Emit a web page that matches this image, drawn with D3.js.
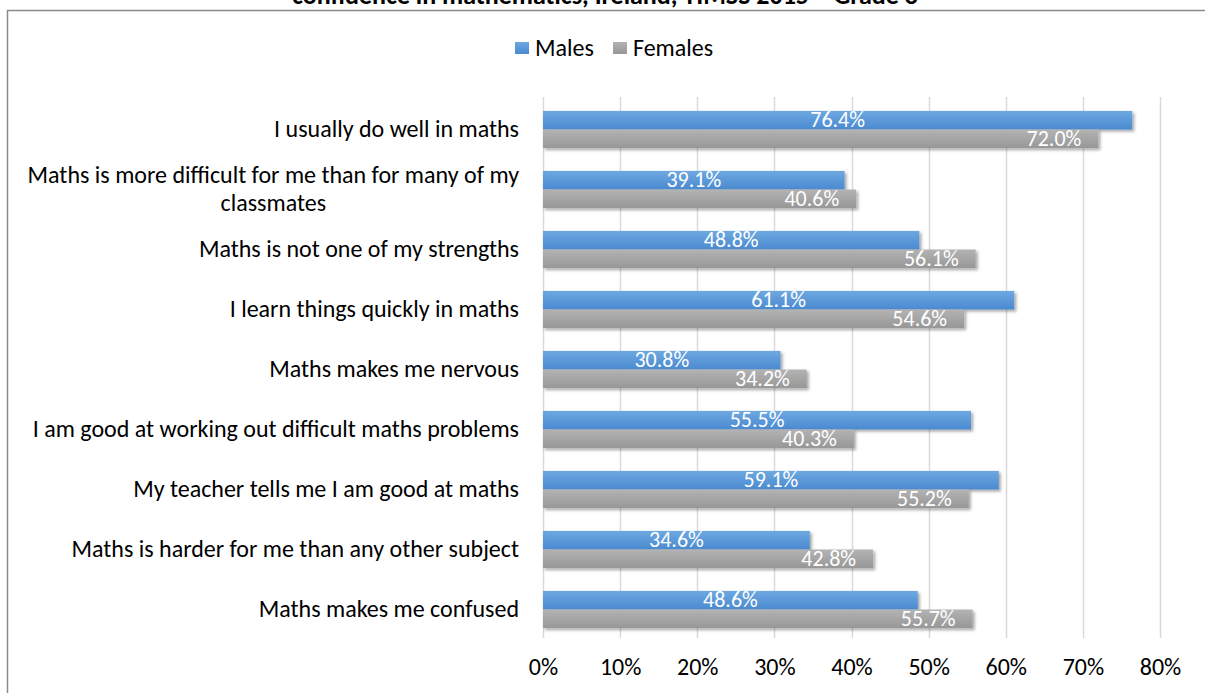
<!DOCTYPE html>
<html>
<head>
<meta charset="utf-8">
<script src="https://cdn.jsdelivr.net/npm/d3@7"></script>
<style>
  body { margin: 0; background: #fff; }
  text { font-family: Carlito, Calibri, "Noto Sans", sans-serif; }
</style>
</head>
<body>
<div id="chart"></div>
<script>
var categories = [
  "I usually do well in maths",
  "Maths is more difficult for me than for many of my classmates",
  "Maths is not one of my strengths",
  "I learn things quickly in maths",
  "Maths makes me nervous",
  "I am good at working out difficult maths problems",
  "My teacher tells me I am good at maths",
  "Maths is harder for me than any other subject",
  "Maths makes me confused"
];
var males = [76.4, 39.1, 48.8, 61.1, 30.8, 55.5, 59.1, 34.6, 48.6];
var females = [72.0, 40.6, 56.1, 54.6, 34.2, 40.3, 55.2, 42.8, 55.7];
var seriesNames = ["Males", "Females"];
var xTicks = [0, 10, 20, 30, 40, 50, 60, 70, 80];
var titleText = "confidence in mathematics, Ireland, TIMSS 2015 \u2013 Grade 8";

var W = 1205, H = 693;
var margin = {top: 98, left: 543, right: 45, bottom: 55};

var svg = d3.select("#chart").append("svg")
  .attr("width", W)
  .attr("height", H);

var defs = svg.append("defs");
function grad(id, top, bottom) {
  var g = defs.append("linearGradient").attr("id", id)
    .attr("x1", 0).attr("y1", 0).attr("x2", 0).attr("y2", 1);
  g.append("stop").attr("offset", "0%").attr("stop-color", top);
  g.append("stop").attr("offset", "100%").attr("stop-color", bottom);
}
grad("gMale", "#6ea8e0", "#4a8ad0");
grad("gFemale", "#b3b3b3", "#979797");
var shadow = defs.append("filter").attr("id", "shadow")
  .attr("x", "-5%").attr("y", "-30%").attr("width", "115%").attr("height", "180%");
shadow.append("feDropShadow")
  .attr("dx", 2).attr("dy", 2).attr("stdDeviation", 1.5)
  .attr("flood-color", "#000").attr("flood-opacity", 0.35);

// frame (cut at right/bottom like the source crop)
svg.append("line").attr("x1", 7).attr("x2", W).attr("y1", 10.5).attr("y2", 10.5)
  .attr("stroke", "#8a8a8a").attr("stroke-width", 1.5);
svg.append("line").attr("x1", 7.5).attr("x2", 7.5).attr("y1", 10).attr("y2", H)
  .attr("stroke", "#8a8a8a").attr("stroke-width", 1.5);

// title (only its lower part shows, as in the source)
svg.append("text")
  .attr("x", 605).attr("y", 4)
  .attr("text-anchor", "middle")
  .style("font-size", "26px").style("font-weight", "bold")
  .attr("fill", "#000")
  .text(titleText);

var x = d3.scaleLinear()
  .domain([0, 80])
  .range([margin.left, W - margin.right]);

var y = d3.scaleBand()
  .domain(categories)
  .range([99.5, 639.5])
  .paddingInner(0.38)
  .paddingOuter(0.19);

var sub = d3.scaleBand()
  .domain(seriesNames)
  .range([0, y.bandwidth()]);

// gridlines
svg.append("g").selectAll("line")
  .data(xTicks)
  .enter().append("line")
  .attr("x1", function(d) { return Math.round(x(d)) + 0.5; })
  .attr("x2", function(d) { return Math.round(x(d)) + 0.5; })
  .attr("y1", 97).attr("y2", 638)
  .attr("stroke", "#d9d9d9").attr("stroke-width", 1.5);

// x axis labels
var xAxis = svg.append("g")
  .attr("transform", "translate(0,638)")
  .call(d3.axisBottom(x).tickValues(xTicks).tickSize(0).tickPadding(20)
    .tickFormat(function(d) { return d + "%"; }));
xAxis.select(".domain").remove();
xAxis.selectAll("text")
  .style("font-size", "24px")
  .style("font-family", 'Carlito, Calibri, "Noto Sans", sans-serif')
  .attr("fill", "#000");

// category labels
var wrapAt = {1: ["Maths is more difficult for me than for many of my", "classmates"]};
var cat = svg.append("g").selectAll("g")
  .data(categories)
  .enter().append("g");
cat.each(function(d, i) {
  var g = d3.select(this);
  var cy = y(d) + y.bandwidth() / 2;
  if (wrapAt[i]) {
    var lines = wrapAt[i];
    var t = g.append("text")
      .style("font-size", "24px").attr("fill", "#000");
    var first = t.append("tspan").attr("x", 519).attr("y", cy - 14 + 7)
      .attr("text-anchor", "end").text(lines[0]);
    var w = first.node().getComputedTextLength();
    t.append("tspan").attr("x", 519 - w / 2).attr("y", cy + 14 + 7)
      .attr("text-anchor", "middle").text(lines[1]);
  } else {
    g.append("text")
      .attr("x", 519).attr("y", cy + 7)
      .attr("text-anchor", "end")
      .style("font-size", "24px").attr("fill", "#000")
      .text(d);
  }
});

// bars
var rows = categories.map(function(c, i) {
  return {cat: c, Males: males[i], Females: females[i]};
});

var groups = svg.append("g").selectAll("g")
  .data(rows)
  .enter().append("g")
  .attr("transform", function(d) { return "translate(0," + y(d.cat) + ")"; });

groups.append("rect")
  .attr("x", x(0))
  .attr("y", sub("Males"))
  .attr("width", function(d) { return x(d.Males) - x(0); })
  .attr("height", sub.bandwidth())
  .attr("fill", "url(#gMale)")
  .attr("filter", "url(#shadow)");

groups.append("rect")
  .attr("x", x(0))
  .attr("y", sub("Females"))
  .attr("width", function(d) { return x(d.Females) - x(0); })
  .attr("height", sub.bandwidth())
  .attr("fill", "url(#gFemale)")
  .attr("filter", "url(#shadow)");

groups.append("text")
  .attr("x", function(d) { return (x(0) + x(d.Males)) / 2; })
  .attr("y", sub("Males") + sub.bandwidth() / 2 + 7)
  .attr("text-anchor", "middle")
  .style("font-size", "22px").attr("fill", "#fff")
  .text(function(d) { return d.Males.toFixed(1) + "%"; });

groups.append("text")
  .attr("x", function(d) { return x(d.Females) - 17; })
  .attr("y", sub("Females") + sub.bandwidth() / 2 + 7)
  .attr("text-anchor", "end")
  .style("font-size", "22px").attr("fill", "#fff")
  .text(function(d) { return d.Females.toFixed(1) + "%"; });

// legend
var legend = svg.append("g").attr("transform", "translate(515,42)");
var legendX = [0, 98];
var legendFill = ["url(#gMale)", "url(#gFemale)"];
seriesNames.forEach(function(s, i) {
  legend.append("rect")
    .attr("x", legendX[i]).attr("y", 0)
    .attr("width", 14).attr("height", 12)
    .attr("fill", legendFill[i]);
  legend.append("text")
    .attr("x", legendX[i] + 20).attr("y", 14)
    .style("font-size", "24px").attr("fill", "#000")
    .text(s);
});
</script>
</body>
</html>
